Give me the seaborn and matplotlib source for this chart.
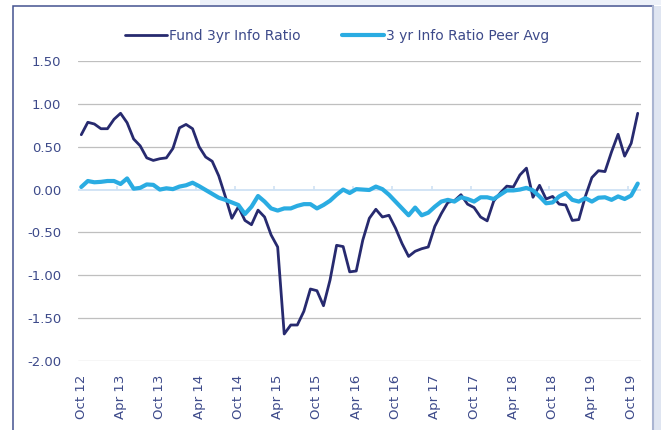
import matplotlib
matplotlib.use("Agg")
import matplotlib.pyplot as plt
from matplotlib.patches import Rectangle
from matplotlib.lines import Line2D
import pandas as pd
import seaborn as sns

# ---------------- data ----------------
months = list(range(86))  # Oct 2012 .. Nov 2019, monthly
tick_positions = [0, 6, 12, 18, 24, 30, 36, 42, 48, 54, 60, 66, 72, 78, 84]
tick_labels = ["Oct 12", "Apr 13", "Oct 13", "Apr 14", "Oct 14", "Apr 15", "Oct 15",
               "Apr 16", "Oct 16", "Apr 17", "Oct 17", "Apr 18", "Oct 18", "Apr 19", "Oct 19"]
y_ticks = [1.5, 1.0, 0.5, 0.0, -0.5, -1.0, -1.5, -2.0]

fund = [0.64, 0.785, 0.765, 0.71, 0.71, 0.82, 0.89, 0.78, 0.59, 0.51,
        0.37, 0.34, 0.36, 0.37, 0.48, 0.72, 0.76, 0.71, 0.50, 0.38,
        0.33, 0.16, -0.08, -0.335, -0.20, -0.36, -0.41, -0.24, -0.32, -0.53,
        -0.67, -1.685, -1.58, -1.58, -1.42, -1.16, -1.18, -1.355, -1.055, -0.65,
        -0.665, -0.96, -0.95, -0.59, -0.335, -0.23, -0.32, -0.30, -0.45, -0.63,
        -0.78, -0.72, -0.69, -0.67, -0.43, -0.28, -0.15, -0.13, -0.06, -0.17,
        -0.21, -0.32, -0.365, -0.135, -0.04, 0.04, 0.03, 0.17, 0.25, -0.09,
        0.05, -0.11, -0.08, -0.17, -0.18, -0.36, -0.35, -0.08, 0.14, 0.22,
        0.21, 0.44, 0.645, 0.39, 0.54, 0.89]
peer = [0.03, 0.10, 0.085, 0.09, 0.10, 0.10, 0.065, 0.13, 0.01, 0.02,
        0.06, 0.055, 0.00, 0.015, 0.005, 0.035, 0.05, 0.08, 0.04, -0.005,
        -0.05, -0.095, -0.12, -0.15, -0.18, -0.285, -0.20, -0.075, -0.14, -0.22,
        -0.245, -0.22, -0.22, -0.19, -0.17, -0.17, -0.22, -0.18, -0.13, -0.06,
        0.00, -0.04, 0.005, 0.0, -0.005, 0.035, 0.005, -0.06, -0.14, -0.22,
        -0.30, -0.21, -0.30, -0.27, -0.20, -0.14, -0.12, -0.14, -0.09, -0.11,
        -0.14, -0.09, -0.09, -0.11, -0.06, -0.01, -0.01, 0.00, 0.02, -0.01,
        -0.08, -0.16, -0.15, -0.08, -0.04, -0.12, -0.14, -0.10, -0.14, -0.095,
        -0.09, -0.12, -0.08, -0.11, -0.07, 0.07]

series_names = ["Fund 3yr Info Ratio", "3 yr Info Ratio Peer Avg"]
colors = {"Fund 3yr Info Ratio": "#272a6f", "3 yr Info Ratio Peer Avg": "#2aace2"}
widths = {"Fund 3yr Info Ratio": 2.0, "3 yr Info Ratio Peer Avg": 3.0}

df = pd.concat([
    pd.DataFrame({"m": months, "v": fund, "s": series_names[0]}),
    pd.DataFrame({"m": months, "v": peer, "s": series_names[1]}),
])

# ---------------- style ----------------
sns.set_style("white")
plt.rcParams["font.family"] = ["DejaVu Sans"]
text_color = "#3d4a8a"

W, H = 661, 430
fig = plt.figure(figsize=(W / 100, H / 100), dpi=100)
ax = fig.add_axes([78 / W, 1 - 361 / H, (641 - 78) / W, (361 - 61) / H])

# frame decorations (figure pixel coords)
fig.patches.append(Rectangle((200 / W, 1 - 5 / H), 461 / W, 5 / H, transform=fig.transFigure,
                             facecolor="#edf1f9", edgecolor="none", zorder=0))
fig.patches.append(Rectangle((653 / W, 0), 8 / W, 1 - 6 / H, transform=fig.transFigure,
                             facecolor="#dfe5f1", edgecolor="none", zorder=0))
fig.patches.append(Rectangle((13 / W, -0.05), (653 - 13) / W, 1.05 - 6 / H, transform=fig.transFigure,
                             facecolor="none", edgecolor="#44528f", linewidth=1.1, zorder=1))
fig.lines.append(Line2D([653 / W, 653 / W], [0, 1 - 6 / H], transform=fig.transFigure,
                        color="#aab5d2", linewidth=1.5))

# gridlines
for yv in y_ticks:
    if yv != 0:
        ax.axhline(yv, color="#bfbfbf", linewidth=0.9, zorder=0)
ax.axhline(0, color="#cfe2f4", linewidth=1.3, zorder=1)
bounds = [p - 0.5 for p in tick_positions]
ax.vlines(bounds[1:], 0, 0.045, color="#cfe2f4", linewidth=1.2, zorder=1)

sns.lineplot(data=df, x="m", y="v", hue="s", palette=colors, ax=ax, legend=False,
             estimator=None, sort=False)
for ln in ax.lines:
    c = matplotlib.colors.to_hex(ln.get_color())
    for n in series_names:
        if c == colors[n]:
            ln.set_linewidth(widths[n])
            ln.set_zorder(3 if n == series_names[0] else 4)

ax.set_xlim(-0.5, 85.5)
ax.set_ylim(-2.0, 1.5)
ax.set_yticks(y_ticks)
ax.set_yticklabels([f"{v:.2f}" for v in y_ticks])
ax.set_xticks(tick_positions)
ax.set_xticklabels(tick_labels, rotation=90)
ax.tick_params(axis="y", length=0, pad=12, labelsize=9.5, labelcolor=text_color)
ax.tick_params(axis="x", length=0, pad=10, labelsize=9.5, labelcolor=text_color)
for lab in ax.get_xticklabels():
    lab.set_verticalalignment("top")
ax.set_xlabel("")
ax.set_ylabel("")
for sp in ax.spines.values():
    sp.set_visible(False)
ax.set_facecolor("none")

handles = [Line2D([], [], color=colors[n], linewidth=widths[n]) for n in series_names]
fig.legend(handles, series_names, loc="center", bbox_to_anchor=(337 / W, 1 - 36 / H), ncol=2,
           frameon=False, fontsize=10, labelcolor=text_color, handlelength=3.0,
           handletextpad=0.15, columnspacing=3.0)

fig.savefig("out.png", dpi=100)
